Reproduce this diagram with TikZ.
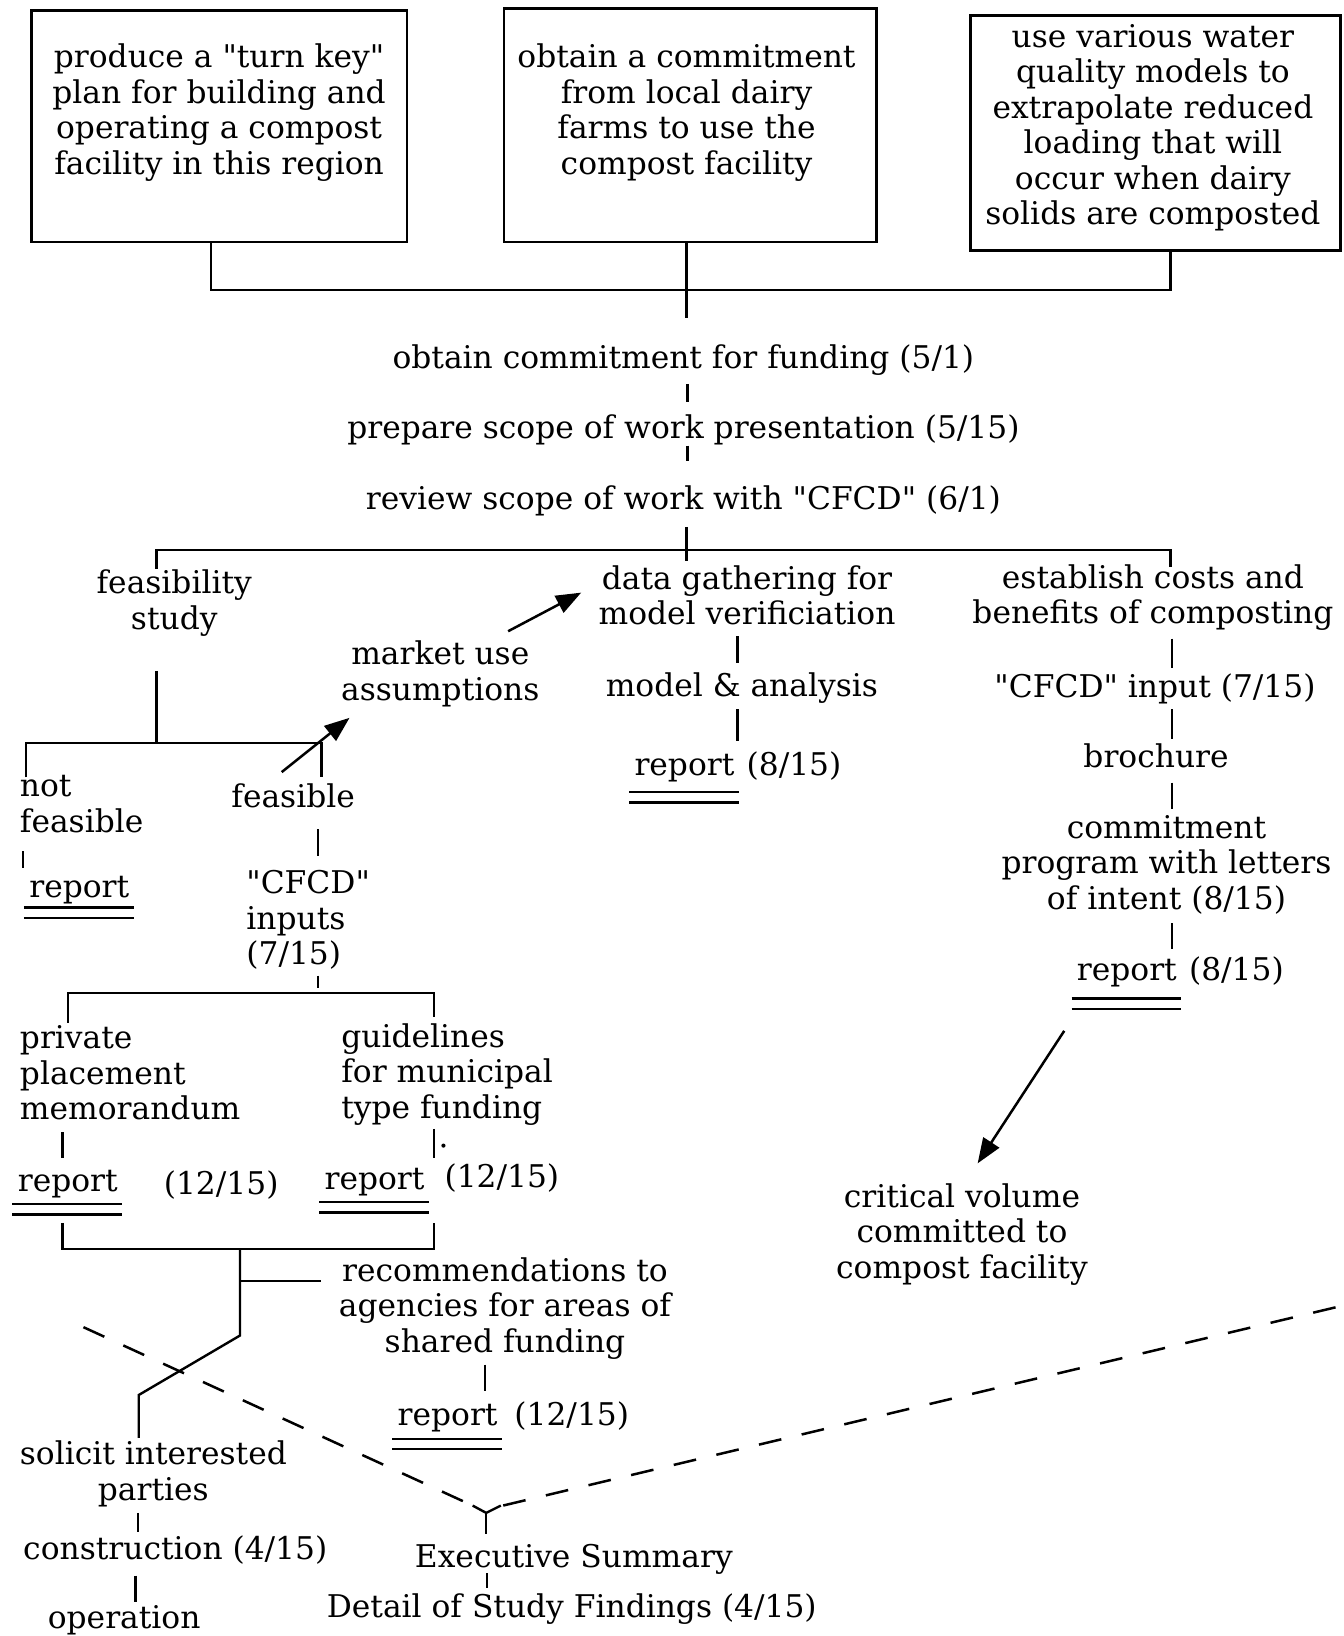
\documentclass[tikz,border=0pt]{standalone}
\usepackage{fontspec}
\setmainfont{DejaVu Serif}[Ligatures=TeXOff]
\usetikzlibrary{arrows.meta}
\newcommand\ftx{\fontsize{30}{34}\selectfont}
\newcommand\dq{"}
\newcommand\dul[2]{%
  \draw ([xshift=-4pt,yshift=-#2pt]#1.base west) -- ([xshift=3pt,yshift=-#2pt]#1.base east);
  \draw ([xshift=-4pt,yshift=-#2pt-10pt]#1.base west) -- ([xshift=3pt,yshift=-#2pt-10pt]#1.base east);}
\begin{document}
\begin{tikzpicture}[x=1pt,y=-1pt, line width=2.3pt,
  lab/.style={font=\ftx, inner sep=0pt, anchor=north, align=center, execute at begin node=\strut},
  labl/.style={lab, anchor=north west, align=left},
  boxst/.style={draw, line width=2.6pt, inner sep=0pt},
  arr/.style={-{Triangle[length=24pt,width=18pt]}, line width=2.4pt},
  dsh/.style={dash pattern=on 22pt off 20pt, line width=2.4pt}]
\useasboundingbox (0,0) rectangle (1288,1568);
\fill[white] (0,0) rectangle (1288,1568);

% top boxes
\node[boxst, minimum width=360pt, minimum height=222pt] (b1) at (210,121) {};
\node[boxst, minimum width=357pt, minimum height=224pt] (b2) at (661.5,120) {};
\node[boxst, minimum width=355pt, minimum height=225pt] (b3) at (1107.5,127.5) {};
\node[lab] (t1) at (210,41) {produce a \dq turn key\dq\\plan for building and\\operating a compost\\facility in this region};
\node[lab] (t2) at (658,41) {obtain a commitment\\from local dairy\\farms to use the\\compost facility};
\node[lab] (t3) at (1105,22) {use various water\\quality models to\\extrapolate reduced\\loading that will\\occur when dairy\\solids are composted};

% main column
\node[lab] (fund) at (655,328) {obtain commitment for funding (5/1)};
\node[lab] (scope) at (655,395) {prepare scope of work presentation (5/15)};
\node[lab] (review) at (655,463) {review scope of work with \dq CFCD\dq\ (6/1)};

% branches
\node[lab] (feas) at (167,545) {feasibility\\study};
\node[lab] (market) at (422,613) {market use\\assumptions};
\node[lab] (data) at (716,541) {data gathering for\\model verificiation};
\node[lab] (model) at (711,643) {model \& analysis};
\node[lab] (rA) at (656,718) {report};
\node[lab] (dA) at (761,718) {(8/15)};
\node[lab] (costs) at (1105,540) {establish costs and\\benefits of composting};
\node[lab] (cfcdin) at (1107,644) {\dq CFCD\dq\ input (7/15)};
\node[lab] (broch) at (1108,711) {brochure};
\node[lab] (commit) at (1118,780) {commitment\\program with letters\\of intent (8/15)};
\node[lab] (rB) at (1080,915) {report};
\node[lab] (dB) at (1185,915) {(8/15)};
\node[lab] (crit) at (922,1133) {critical volume\\committed to\\compost facility};

\node[labl] (notf) at (18,742) {not\\feasible};
\node[lab] (rC) at (76,835) {report};
\node[lab] (feasible) at (281,749) {feasible};
\node[labl] (cfcdinp) at (235,833) {\dq CFCD\dq\\inputs\\(7/15)};
\node[labl] (priv) at (18,982) {private\\placement\\memorandum};
\node[labl] (guide) at (326,980) {guidelines\\for municipal\\type funding};
\node[lab] (rD) at (65,1117) {report};
\node[lab] (dD) at (212,1120) {(12/15)};
\node[lab] (rE) at (359,1115) {report};
\node[lab] (dE) at (481,1113) {(12/15)};
\node[lab] (recom) at (484,1204) {recommendations to\\agencies for areas of\\shared funding};
\node[lab] (rF) at (429,1341) {report};
\node[lab] (dF) at (548,1341) {(12/15)};
\node[lab] (solicit) at (147,1380) {solicit interested\\parties};
\node[lab] (constr) at (168,1470) {construction (4/15)};
\node[lab] (oper) at (119,1536) {operation};
\node[lab] (exec) at (550,1477) {Executive Summary};
\node[lab] (detail) at (548,1525) {Detail of Study Findings (4/15)};

% double underlines
\dul{rA}{16}
\dul{rB}{17}
\dul{rC}{10}
\dul{rD}{12}
\dul{rE}{12}
\dul{rF}{13}

% top connectors
\draw ([xshift=-8pt]b1.south) |- (1122,278) -- ([xshift=14.5pt]b3.south);
\draw ([xshift=-3.5pt]b2.south) -- (658,305);
\draw (659,368) -- (659,385);
\draw (659,427) -- (659,442);
\draw (658,505) -- (658,538);
\draw (150,545) |- (1122,527) -- (1122,543);

% feasibility branch
\draw (150,643) -- (150,712);
\draw (25,745) |- (308,712) -- (308,745);
\draw[arr] (270,740) -- (335,688);
\draw[arr] (487,605) -- (557,568);
\draw (22,816) -- (22,832);
\draw (305,795) -- (305,820);
\draw (305,935) -- (305,947);
\draw (65,980) |- (416,952) -- (416,975);
\draw (60,1085) -- (60,1110);
\draw (416,1082) -- (416,1110);
\fill (425,1098) circle (2pt);
\draw (60,1172) |- (416,1197) -- (416,1172);
\draw (230,1197) -- (230,1280) -- (133,1337) -- (133,1378);
\draw (230,1228) -- (308,1228);
\draw (465,1308) -- (465,1333);
\draw (132,1450) -- (132,1468);
\draw (130,1510) -- (130,1535);

% data / costs columns
\draw (707,610) -- (707,635);
\draw (707,680) -- (707,710);
\draw (1123,612) -- (1123,640);
\draw (1123,680) -- (1123,708);
\draw (1123,750) -- (1123,775);
\draw (1123,885) -- (1123,910);
\draw[arr] (1020,988) -- (937,1115);

% dashed lines and junction
\coordinate (yj) at (466,1450);
\draw[dsh] (80,1272) -- (453,1443);
\draw[dsh] (1280,1253) -- (482,1443);
\draw (453,1443) -- (yj) -- (480,1443);
\draw (yj) -- (466,1470);
\draw (467,1508) -- (467,1522);
\end{tikzpicture}
\end{document}
